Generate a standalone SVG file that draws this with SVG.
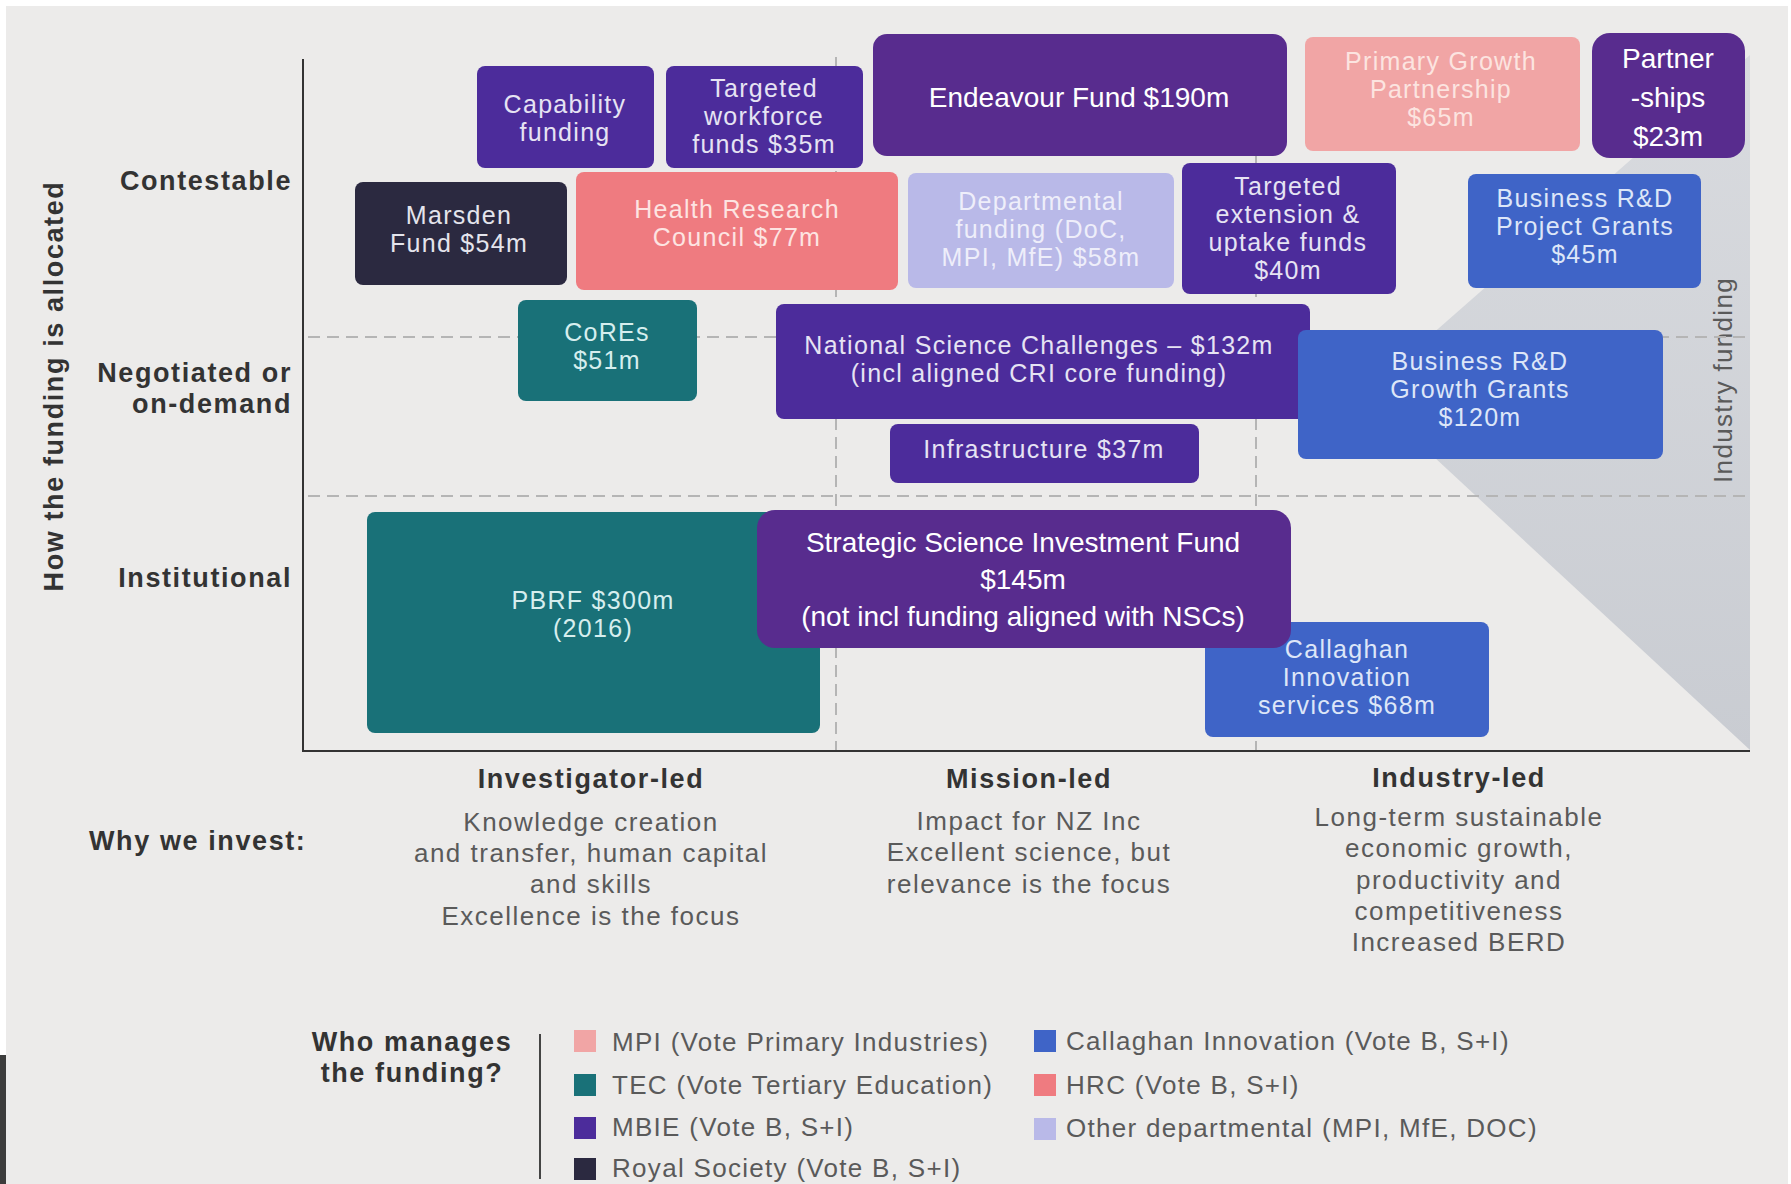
<svg xmlns="http://www.w3.org/2000/svg" width="1791" height="1184" viewBox="0 0 1791 1184">
<defs>
<linearGradient id="indGrad" x1="0" y1="0" x2="0" y2="1">
<stop offset="0" stop-color="#d9dbdf"/>
<stop offset="1" stop-color="#c9ccd2"/>
</linearGradient>
<style>
.bx{font-family:"Liberation Sans",Arial,sans-serif;font-size:25px;letter-spacing:1.3px;text-anchor:middle}
.ov{font-family:"Liberation Sans",Arial,sans-serif;font-size:28px;fill:#ffffff;text-anchor:middle}
.lbl{font-family:"Liberation Sans",Arial,sans-serif;font-size:27px;font-weight:700;fill:#333333;letter-spacing:1.6px}
.desc{font-family:"Liberation Sans",Arial,sans-serif;font-size:26px;fill:#5a5a5a;letter-spacing:1.5px;text-anchor:middle}
.leg{font-family:"Liberation Sans",Arial,sans-serif;font-size:26px;fill:#5a5a5a;letter-spacing:1.3px}
.mbie{fill:#4c2c9b}
.ovl{fill:#582c8e}
.tec{fill:#197178}
.cal{fill:#3f64c7}
.rs{fill:#2b2940}
.hrc{fill:#ef7b80}
.mpi{fill:#f1a5a5}
.dep{fill:#b9b9e8}
.tw{fill:#e6e3f3}
.tt{fill:#d6eeee}
.tb{fill:#dde6f8}
.tn{fill:#e4e4ec}
.th{fill:#fde4e2}
.tp{fill:#fce4e0}
.td{fill:#eeeefa}
.dash{stroke:#b5b5b5;stroke-width:2;stroke-dasharray:12 7;fill:none}
.axis{stroke:#333333;stroke-width:2;fill:none}
</style>
</defs>
<rect x="0" y="0" width="1791" height="1184" fill="#ffffff"/>
<rect x="6" y="6" width="1782" height="1178" fill="#ecebea"/>
<rect x="0" y="1055" width="6" height="129" fill="#3c3c3c"/>

<g id="industry-funding">
<polygon points="1750,55 1365,393 1750,750" fill="url(#indGrad)"/>
<text class="leg" font-size="24" letter-spacing="0.9" transform="translate(1732,380) rotate(-90)" text-anchor="middle">Industry funding</text>
</g>

<g id="axes">
<line class="dash" x1="308" y1="337" x2="1748" y2="337"/>
<line class="dash" x1="308" y1="496" x2="1748" y2="496"/>
<line class="dash" x1="836" y1="57" x2="836" y2="750"/>
<line class="dash" x1="1256" y1="57" x2="1256" y2="750"/>
<line class="axis" x1="303" y1="59" x2="303" y2="751"/>
<line class="axis" x1="302" y1="751" x2="1750" y2="751"/>
</g>

<g id="axis-labels">
<text class="lbl" font-size="24" letter-spacing="0" transform="translate(63,386) rotate(-90)" text-anchor="middle">How the funding is allocated</text>
<text class="lbl" x="292" y="190" text-anchor="end">Contestable</text>
<text class="lbl" x="292" y="382" text-anchor="end">Negotiated or</text>
<text class="lbl" x="292" y="413" text-anchor="end">on-demand</text>
<text class="lbl" x="292" y="587" text-anchor="end">Institutional</text>
<text class="lbl" x="591" y="788" text-anchor="middle">Investigator-led</text>
<text class="lbl" x="1029" y="788" text-anchor="middle">Mission-led</text>
<text class="lbl" x="1459" y="787" text-anchor="middle">Industry-led</text>
<text class="lbl" x="89" y="850">Why we invest:</text>
</g>

<g id="why-invest">
<text class="desc" x="591" y="831">Knowledge creation</text>
<text class="desc" x="591" y="862">and transfer, human capital</text>
<text class="desc" x="591" y="893">and skills</text>
<text class="desc" x="591" y="925">Excellence is the focus</text>
<text class="desc" x="1029" y="830">Impact for NZ Inc</text>
<text class="desc" x="1029" y="861">Excellent science, but</text>
<text class="desc" x="1029" y="893">relevance is the focus</text>
<text class="desc" x="1459" y="826">Long-term sustainable</text>
<text class="desc" x="1459" y="857">economic growth,</text>
<text class="desc" x="1459" y="889">productivity and</text>
<text class="desc" x="1459" y="920">competitiveness</text>
<text class="desc" x="1459" y="951">Increased BERD</text>
</g>

<g id="node-capability">
<rect class="mbie" x="477" y="66" width="177" height="102" rx="8"/>
<text class="bx tw" x="565" y="113">Capability</text>
<text class="bx tw" x="565" y="141">funding</text>
</g>
<g id="node-targeted-workforce">
<rect class="mbie" x="666" y="66" width="197" height="102" rx="8"/>
<text class="bx tw" x="764" y="97">Targeted</text>
<text class="bx tw" x="764" y="125">workforce</text>
<text class="bx tw" x="764" y="153">funds $35m</text>
</g>
<g id="node-endeavour">
<rect class="ovl" x="873" y="34" width="414" height="122" rx="14"/>
<text class="ov" x="1079" y="107">Endeavour Fund $190m</text>
</g>
<g id="node-pgp">
<rect class="mpi" x="1305" y="37" width="275" height="114" rx="8"/>
<text class="bx tp" x="1441" y="70">Primary Growth</text>
<text class="bx tp" x="1441" y="98">Partnership</text>
<text class="bx tp" x="1441" y="126">$65m</text>
</g>
<g id="node-partnerships">
<rect class="ovl" x="1592" y="33" width="153" height="125" rx="18"/>
<text class="ov" x="1668" y="68">Partner</text>
<text class="ov" x="1668" y="107">-ships</text>
<text class="ov" x="1668" y="146">$23m</text>
</g>
<g id="node-marsden">
<rect class="rs" x="355" y="182" width="212" height="103" rx="8"/>
<text class="bx tn" x="459" y="224">Marsden</text>
<text class="bx tn" x="459" y="252">Fund $54m</text>
</g>
<g id="node-hrc">
<rect class="hrc" x="576" y="172" width="322" height="118" rx="8"/>
<text class="bx th" x="737" y="218">Health Research</text>
<text class="bx th" x="737" y="246">Council $77m</text>
</g>
<g id="node-departmental">
<rect class="dep" x="908" y="173" width="266" height="115" rx="8"/>
<text class="bx td" x="1041" y="210">Departmental</text>
<text class="bx td" x="1041" y="238">funding (DoC,</text>
<text class="bx td" x="1041" y="266">MPI, MfE) $58m</text>
</g>
<g id="node-targeted-extension">
<rect class="mbie" x="1182" y="163" width="214" height="131" rx="8"/>
<text class="bx tw" x="1288" y="195">Targeted</text>
<text class="bx tw" x="1288" y="223">extension &amp;</text>
<text class="bx tw" x="1288" y="251">uptake funds</text>
<text class="bx tw" x="1288" y="279">$40m</text>
</g>
<g id="node-project-grants">
<rect class="cal" x="1468" y="174" width="233" height="114" rx="8"/>
<text class="bx tb" x="1585" y="207">Business R&amp;D</text>
<text class="bx tb" x="1585" y="235">Project Grants</text>
<text class="bx tb" x="1585" y="263">$45m</text>
</g>
<g id="node-cores">
<rect class="tec" x="518" y="300" width="179" height="101" rx="8"/>
<text class="bx tt" x="607" y="341">CoREs</text>
<text class="bx tt" x="607" y="369">$51m</text>
</g>
<g id="node-nsc">
<rect class="mbie" x="776" y="304" width="534" height="115" rx="8"/>
<text class="bx tw" x="1039" y="354" letter-spacing="0.8">National Science Challenges – $132m</text>
<text class="bx tw" x="1039" y="382" letter-spacing="0.8">(incl aligned CRI core funding)</text>
</g>
<g id="node-growth-grants">
<rect class="cal" x="1298" y="330" width="365" height="129" rx="8"/>
<text class="bx tb" x="1480" y="370">Business R&amp;D</text>
<text class="bx tb" x="1480" y="398">Growth Grants</text>
<text class="bx tb" x="1480" y="426">$120m</text>
</g>
<g id="node-infrastructure">
<rect class="mbie" x="890" y="424" width="309" height="59" rx="8"/>
<text class="bx tw" x="1044" y="458">Infrastructure $37m</text>
</g>
<g id="node-pbrf">
<rect class="tec" x="367" y="512" width="453" height="221" rx="8"/>
<text class="bx tt" x="593" y="609">PBRF $300m</text>
<text class="bx tt" x="593" y="637">(2016)</text>
</g>
<g id="node-callaghan">
<rect class="cal" x="1205" y="622" width="284" height="115" rx="8"/>
<text class="bx tb" x="1347" y="658">Callaghan</text>
<text class="bx tb" x="1347" y="686">Innovation</text>
<text class="bx tb" x="1347" y="714">services $68m</text>
</g>
<g id="node-ssif">
<rect class="ovl" x="757" y="510" width="534" height="138" rx="18"/>
<text class="ov" x="1023" y="552">Strategic Science Investment Fund</text>
<text class="ov" x="1023" y="589">$145m</text>
<text class="ov" x="1023" y="626">(not incl funding aligned with NSCs)</text>
</g>

<g id="legend">
<text class="lbl" x="412" y="1051" text-anchor="middle" letter-spacing="1">Who manages</text>
<text class="lbl" x="412" y="1082" text-anchor="middle" letter-spacing="1">the funding?</text>
<line x1="540" y1="1034" x2="540" y2="1179" stroke="#444444" stroke-width="2"/>
<rect class="mpi" x="574" y="1030" width="22" height="22"/>
<text class="leg" x="612" y="1051">MPI (Vote Primary Industries)</text>
<rect class="tec" x="574" y="1074" width="22" height="22"/>
<text class="leg" x="612" y="1094">TEC (Vote Tertiary Education)</text>
<rect class="mbie" x="574" y="1117" width="22" height="22"/>
<text class="leg" x="612" y="1136">MBIE (Vote B, S+I)</text>
<rect class="rs" x="574" y="1158" width="22" height="22"/>
<text class="leg" x="612" y="1177">Royal Society (Vote B, S+I)</text>
<rect class="cal" x="1034" y="1030" width="22" height="22"/>
<text class="leg" x="1066" y="1050">Callaghan Innovation (Vote B, S+I)</text>
<rect class="hrc" x="1034" y="1074" width="22" height="22"/>
<text class="leg" x="1066" y="1094">HRC (Vote B, S+I)</text>
<rect class="dep" x="1034" y="1118" width="22" height="22"/>
<text class="leg" x="1066" y="1137">Other departmental (MPI, MfE, DOC)</text>
</g>
</svg>
